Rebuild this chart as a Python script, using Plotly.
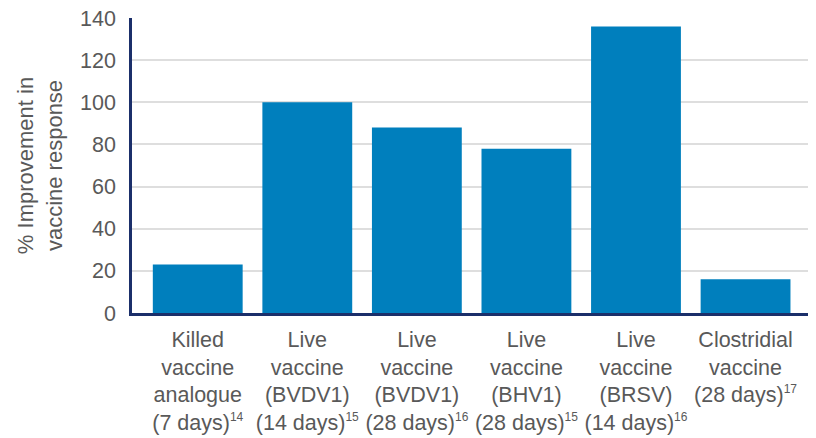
import plotly.graph_objects as go

# Vaccine response improvement by vaccine type
SUP = "<sup><span style='font-size:12px'>{}</span></sup>"

categories = [
    "Killed<br>vaccine<br>analogue<br>(7 days)" + SUP.format(14),
    "Live<br>vaccine<br>(BVDV1)<br>(14 days)" + SUP.format(15),
    "Live<br>vaccine<br>(BVDV1)<br>(28 days)" + SUP.format(16),
    "Live<br>vaccine<br>(BHV1)<br>(28 days)" + SUP.format(15),
    "Live<br>vaccine<br>(BRSV)<br>(14 days)" + SUP.format(16),
    "Clostridial<br>vaccine<br>(28 days)" + SUP.format(17),
]
improvement = [23, 100, 88, 78, 136, 16]
y_ticks = [0, 20, 40, 60, 80, 100, 120, 140]

text_color = "#595959"
axis_color = "#1b2f6a"
bar_color = "#007fbd"
font_family = "Liberation Sans, Arial, sans-serif"

fig = go.Figure(
    go.Bar(
        x=list(range(len(categories))),
        y=improvement,
        marker=dict(color=bar_color, line=dict(width=0)),
        width=0.82,
    )
)

fig.update_layout(
    width=816,
    height=438,
    margin=dict(l=132, r=8, t=18, b=125),
    plot_bgcolor="white",
    paper_bgcolor="white",
    showlegend=False,
    font=dict(family=font_family, color=text_color, size=21.5),
)

fig.update_xaxes(
    tickmode="array",
    tickvals=list(range(len(categories))),
    ticktext=categories,
    range=[-0.6, 5.57],
    showline=True,
    linecolor=axis_color,
    linewidth=2.5,
    showgrid=False,
    ticks="",
    tickfont=dict(size=21.5, color=text_color),
    ticklabelstandoff=5,
    automargin=False,
)

fig.update_yaxes(
    range=[0, 140],
    tickvals=y_ticks,
    showline=True,
    linecolor=axis_color,
    linewidth=2.5,
    showgrid=True,
    gridcolor="#dedede",
    gridwidth=1.5,
    ticks="",
    tickfont=dict(size=21.5, color=text_color),
    ticklabelstandoff=9,
    zeroline=False,
    automargin=False,
    title=dict(
        text="% Improvement in<br>vaccine response",
        font=dict(size=22, color=text_color),
        standoff=12,
    ),
)

fig.write_html("out.html")
